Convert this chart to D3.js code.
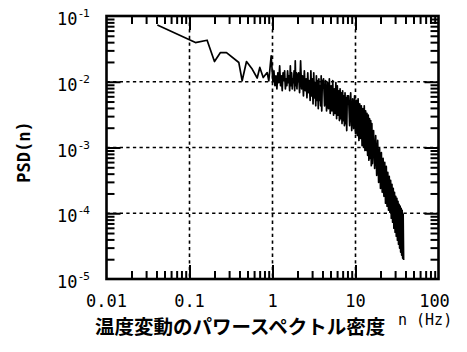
<!DOCTYPE html>
<html><head><meta charset="utf-8">
<script src="https://cdn.jsdelivr.net/npm/d3@7"></script>
<style>body{margin:0;background:#fff}</style>
</head><body>
<svg id="c" width="467" height="352" xmlns="http://www.w3.org/2000/svg"></svg>
<script>
// ---- data ----
const xTicks = [0.01, 0.1, 1, 10, 100];
const xTickLabels = ["0.01", "0.1", "1", "10", "100"];
const yTicks = [1e-1, 1e-2, 1e-3, 1e-4, 1e-5];
const yTickExponents = ["-1", "-2", "-3", "-4", "-5"];
const yTitle = "PSD(n)";
const xTitle = "温度変動のパワースペクトル密度";
const xUnit = "n (Hz)";

// [frequency (Hz), PSD]
const spectrumLow = [
  [0.041,0.0731],[0.103,0.0428],[0.118,0.0394],[0.163,0.0428],[0.200,0.0203],[0.236,0.0278],
  [0.279,0.0278],[0.393,0.0196],[0.431,0.01035],[0.486,0.0203],[0.569,0.0156],[0.654,0.0114],
  [0.703,0.0165],[0.773,0.0116],[0.863,0.0138],[0.902,0.0103],[0.964,0.0248],[1.01,0.0103]
];
const spectrumA = [
  [1.04,0.0147],[1.07,0.0087],[1.10,0.0123],[1.13,0.0078],[1.16,0.0137],[1.19,0.0097],[1.22,0.0175],
  [1.25,0.0087],[1.28,0.0123],[1.31,0.0073],[1.34,0.0137],[1.37,0.0104],[1.40,0.0147],[1.43,0.0078],
  [1.46,0.0111],[1.49,0.0087],[1.52,0.0147],[1.55,0.0097],[1.58,0.0123],[1.61,0.0073],[1.64,0.0175],
  [1.67,0.0087],[1.70,0.0137],[1.73,0.0078],[1.76,0.0111],[1.79,0.0097],[1.82,0.0147],[1.85,0.0073],
  [1.88,0.0208],[1.91,0.0087],[1.94,0.0137],[1.97,0.0078],[2.00,0.0123]
];
const spectrumB = [
  [2.06,0.0137],[2.12,0.0068],[2.18,0.0208],[2.24,0.0078],[2.30,0.0123],[2.36,0.0061],[2.42,0.0147],
  [2.48,0.0073],[2.54,0.0111],[2.60,0.0057],[2.66,0.0137],[2.72,0.0068],[2.78,0.0104],[2.84,0.0052],
  [2.90,0.0147],[2.96,0.0061],[3.02,0.0111],[3.08,0.0046],[3.14,0.0137],[3.20,0.0057],[3.26,0.0097],
  [3.32,0.0043],[3.38,0.0123],[3.44,0.0052],[3.50,0.0104],[3.56,0.0039],[3.62,0.0111],[3.68,0.0052],
  [3.74,0.0087],[3.80,0.0043],[3.86,0.0123],[3.92,0.0036],[3.98,0.0097]
];
const spectrumC = [
  [4.12,0.0111],[4.24,0.0043],[4.36,0.0104],[4.48,0.0036],[4.60,0.0097],[4.72,0.0039],[4.84,0.0111],
  [4.96,0.0033],[5.08,0.0087],[5.20,0.0036],[5.32,0.0104],[5.44,0.0031],[5.56,0.0078],[5.68,0.0033],
  [5.80,0.0097],[5.92,0.00275],[6.04,0.0087],[6.16,0.0031],[6.28,0.0073],[6.40,0.00257],[6.52,0.0078],
  [6.64,0.00275],[6.76,0.0068],[6.88,0.00231],[7.00,0.0073],[7.12,0.00257],[7.24,0.0061],[7.36,0.00215],
  [7.48,0.0068],[7.60,0.00231],[7.72,0.0057],[7.84,0.00181],[7.96,0.0061]
];
const spectrumD = [
  [8.25,0.0061],[8.5,0.00215],[8.75,0.0068],[9.0,0.00181],[9.25,0.0055],[9.5,0.00194],[9.75,0.0061],
  [10.0,0.00163],[10.25,0.0052],[10.5,0.00152],[10.75,0.0055],[11.0,0.00128],[11.25,0.0046],[11.5,0.00137],
  [11.75,0.0043],[12.0,0.00107],[12.25,0.0039],[12.5,0.00100],[12.75,0.0043],[13.0,0.00090],[13.25,0.0036],
  [13.5,0.00090],[13.75,0.0033],[14.0,0.00076],[14.25,0.0031],[14.5,0.00064],[14.75,0.00275],[15.0,0.00068],
  [15.25,0.00257],[15.5,0.00053],[15.75,0.00231],[16.0,0.00057]
];
const spectrumE = [
  [16.5,1.81e-3],[17,4.81e-4],[17.5,1.52e-3],[18,3.77e-4],[18.5,1.28e-3],[19,2.95e-4],[19.5,9.66e-4],
  [20,2.39e-4],[20.5,8.40e-4],[21,2.08e-4],[21.5,6.81e-4],[22,1.81e-4],[22.5,5.92e-4],[23,1.42e-4],
  [23.5,5.15e-4],[24,1.28e-4],[24.5,4.18e-4],[25,1.11e-4],[25.5,3.64e-4],[26,1.035e-4],[26.5,3.16e-4],
  [27,8.40e-5],[27.5,2.75e-4],[28,7.31e-5],[28.5,2.39e-4],[29,5.92e-5],[29.5,2.08e-4],[30,5.15e-5],
  [30.5,1.81e-4],[31,4.48e-5],[31.5,1.69e-4],[32,3.90e-5],[32.5,1.52e-4],[33,3.39e-5],[33.5,1.37e-4],
  [34,2.95e-5],[34.5,1.28e-4],[35,2.57e-5],[35.5,1.19e-4],[36,2.31e-5],[36.5,1.11e-4],[37,2.08e-5],
  [37.5,9.66e-5],[38,1.94e-5]
];
const spectrum = spectrumLow.concat(spectrumA, spectrumB, spectrumC, spectrumD, spectrumE);

// ---- layout ----
const L = 106.5, R = 438.5, T = 16, B = 279;
const x = d3.scaleLog().domain([0.01, 100]).range([L, R]);
const y = d3.scaleLog().domain([1e-5, 1e-1]).range([B, T]);
const svg = d3.select("#c");
const mono = "'DejaVu Sans Mono', 'Liberation Mono', monospace";

const isMajor = (v, arr) => arr.some(t => Math.abs(v / t - 1) < 1e-6);
const minorX = x.ticks().filter(v => !isMajor(v, xTicks));
const minorY = y.ticks().filter(v => !isMajor(v, yTicks));
const innerX = xTicks.slice(1, -1);
const innerY = yTicks.slice(1, -1);

// dotted grid
const grid = svg.append("g").attr("stroke", "#000").attr("stroke-width", 1.6).attr("stroke-dasharray", "3.3,3.3");
grid.selectAll(".gx").data(innerX).join("line")
  .attr("x1", d => x(d)).attr("x2", d => x(d)).attr("y1", T).attr("y2", B);
grid.selectAll(".gy").data(innerY).join("line")
  .attr("y1", d => y(d)).attr("y2", d => y(d)).attr("x1", L).attr("x2", R);

// ticks via d3 axes
function styleAxis(g) {
  g.select(".domain").remove();
  g.selectAll(".tick line").attr("stroke", "#000").attr("stroke-width", 2);
  g.selectAll(".tick text").remove();
}
const axes = [
  [d3.axisBottom, `translate(0,${B})`, x, true],
  [d3.axisTop, `translate(0,${T})`, x, true],
  [d3.axisLeft, `translate(${L},0)`, y, false],
  [d3.axisRight, `translate(${R},0)`, y, false]
];
axes.forEach(([fn, tr, sc, isX]) => {
  const minors = isX ? minorX : minorY;
  const majors = isX ? innerX : innerY;
  svg.append("g").attr("transform", tr).call(fn(sc).tickValues(minors).tickSize(-8).tickFormat("")).call(styleAxis);
  svg.append("g").attr("transform", tr).call(fn(sc).tickValues(majors).tickSize(-14).tickFormat("")).call(styleAxis);
});

// data line
svg.append("path").datum(spectrum)
  .attr("fill", "none").attr("stroke", "#000").attr("stroke-width", 1.7).attr("stroke-linejoin", "round")
  .attr("d", d3.line().x(d => x(d[0])).y(d => y(d[1])));

// frame
svg.append("rect").attr("x", L).attr("y", T).attr("width", R - L).attr("height", B - T)
  .attr("fill", "none").attr("stroke", "#000").attr("stroke-width", 2.6);

// x tick labels (last one sits slightly left of its tick, as in the reference)
svg.append("g").selectAll("text").data(xTicks).join("text")
  .attr("x", (d, i) => x(d) - (i === xTicks.length - 1 ? 4 : 0)).attr("y", 307).attr("text-anchor", "middle")
  .attr("font-family", mono).attr("font-size", 17).attr("fill", "#000")
  .text((d, i) => xTickLabels[i]);

// y tick labels
const yl = svg.append("g").selectAll("text").data(yTicks).join("text")
  .attr("x", 57).attr("y", d => y(d) + 9)
  .attr("font-family", mono).attr("font-size", 17).attr("fill", "#000");
yl.append("tspan").text("10");
yl.append("tspan").attr("dx", 1.5).attr("dy", -8).attr("font-size", 11)
  .attr("font-family", "'DejaVu Sans', sans-serif").text((d, i) => yTickExponents[i]);

// titles
svg.append("text").attr("transform", "translate(30,152) rotate(-90)")
  .attr("text-anchor", "middle").attr("font-family", mono).attr("font-size", 17).attr("font-weight", "bold")
  .text(yTitle);
svg.append("text").attr("x", 95).attr("y", 334)
  .attr("font-family", "'Noto Sans CJK JP', sans-serif").attr("font-size", 19.5).attr("font-weight", "bold")
  .text(xTitle);
svg.append("text").attr("x", 398).attr("y", 325)
  .attr("font-family", mono).attr("font-size", 15).text(xUnit);
</script>
</body></html>
